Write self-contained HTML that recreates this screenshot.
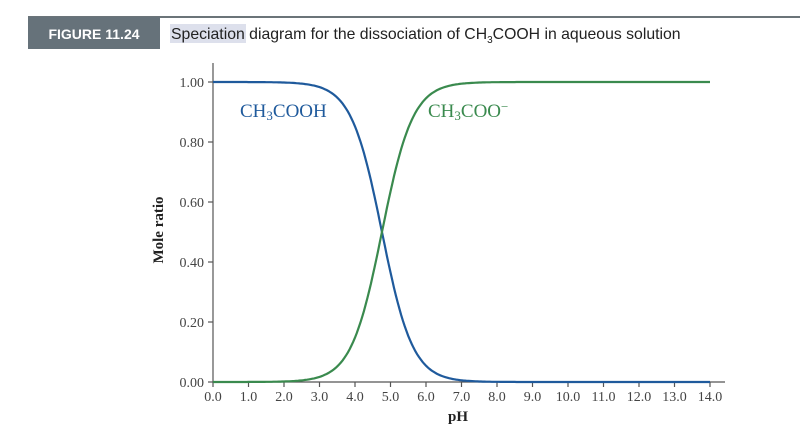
<!DOCTYPE html>
<html><head><meta charset="utf-8"><style>
body{margin:0;background:#fff;width:800px;height:435px;overflow:hidden;font-family:"Liberation Serif",serif;}
</style></head><body>
<svg width="800" height="435" xmlns="http://www.w3.org/2000/svg">
<line x1="28" y1="17" x2="800" y2="17" stroke="#6b7479" stroke-width="2"/>
<rect x="28" y="17" width="132" height="32" fill="#66727a"/>
<text x="94" y="39" text-anchor="middle" font-family="Liberation Sans,sans-serif" font-weight="bold" font-size="14" fill="#fff">FIGURE 11.24</text>
<rect x="170" y="24" width="76" height="19" fill="#dde0ec"/>
<text x="171" y="39" font-family="Liberation Sans,sans-serif" font-size="15.8" fill="#222">Speciation diagram for the dissociation of CH<tspan font-size="10" dy="4">3</tspan><tspan dy="-4">COOH in aqueous solution</tspan></text>
<g stroke="#555" stroke-width="1.2">
<line x1="213" y1="63" x2="213" y2="382"/>
<line x1="213" y1="382" x2="725" y2="382"/>
</g>
<g id="ticks" stroke="#555" stroke-width="1.2"></g>
<g id="lbl" font-size="14" fill="#444"></g>
<path id="p1" fill="none" stroke="#1f5a9c" stroke-width="2.2"/>
<path id="p2" fill="none" stroke="#3a8a4e" stroke-width="2.2"/>
<text x="240" y="117" font-size="19" fill="#1f5a9c">CH<tspan font-size="13" dy="3">3</tspan><tspan dy="-3">COOH</tspan></text>
<text x="428" y="117" font-size="19" fill="#3a8a4e">CH<tspan font-size="13" dy="3">3</tspan><tspan dy="-3">COO</tspan><tspan font-size="13" dy="-6">−</tspan></text>
<text x="458" y="421" text-anchor="middle" font-size="15" font-weight="bold" fill="#222">pH</text>
<text transform="translate(163,230) rotate(-90)" text-anchor="middle" font-size="15" font-weight="bold" fill="#222">Mole ratio</text>
</svg>
<script>
var X=function(p){return 213+p*35.5},Y=function(f){return 382-300*f};
var t=document.getElementById('ticks'),l=document.getElementById('lbl'),ns='http://www.w3.org/2000/svg';
function el(par,n,a,txt){var e=document.createElementNS(ns,n);for(var k in a)e.setAttribute(k,a[k]);if(txt)e.textContent=txt;par.appendChild(e);}
for(var i=0;i<=14;i++){el(t,'line',{x1:X(i),y1:382,x2:X(i),y2:387});el(l,'text',{x:X(i),y:401,'text-anchor':'middle'},i.toFixed(1));}
for(var j=0;j<=5;j++){var y=Y(j*0.2);el(t,'line',{x1:208,y1:y,x2:213,y2:y});el(l,'text',{x:204,y:y+5,'text-anchor':'end'},(j*0.2).toFixed(2));}
var a='',b='';for(var p=0;p<=14.001;p+=0.05){var f=1/(1+Math.pow(10,p-4.76));a+=(p?'L':'M')+X(p).toFixed(1)+' '+Y(f).toFixed(1);b+=(p?'L':'M')+X(p).toFixed(1)+' '+Y(1-f).toFixed(1);}
document.getElementById('p1').setAttribute('d',a);document.getElementById('p2').setAttribute('d',b);
</script>
</body></html>
